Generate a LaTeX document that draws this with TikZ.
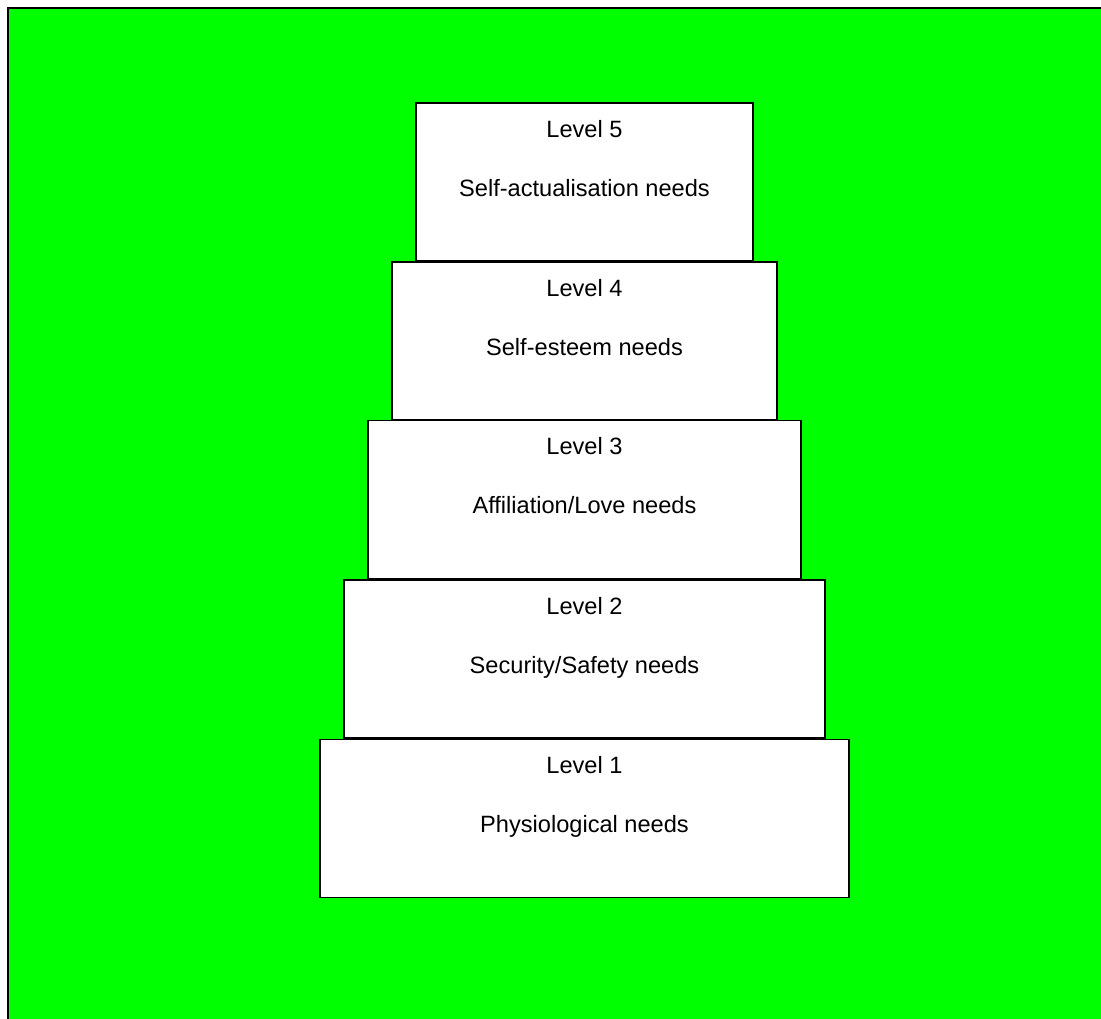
\documentclass[tikz,border=0pt]{standalone}
\usepackage{fontspec}
\setmainfont{Liberation Sans}
\definecolor{bggreen}{HTML}{00FF00}
\begin{document}
\begin{tikzpicture}[x=1pt,y=-1pt,
  lvlbox/.style={draw=black,fill=white,line width=1.6pt,inner sep=0pt,minimum height=158pt},
  lvltext/.style={anchor=base,inner sep=0pt,font=\fontsize{23.6}{27}\selectfont}]
\useasboundingbox (0,0) rectangle (1101,1019);
\fill[bggreen] (8,8) rectangle (1101,1019);
\coordinate (fbl) at (8,1019);
\coordinate (ftl) at (8,8);
\coordinate (ftr) at (1101,8);
\draw[line width=2pt,black] (fbl) -- (ftl) -- (ftr);
% boxes
\node[lvlbox,minimum width=337pt] (b5) at (584.5,182) {};
\node[lvlbox,minimum width=385pt] (b4) at (584.5,341) {};
\node[lvlbox,minimum width=433pt] (b3) at (584.5,499.5) {};
\node[lvlbox,minimum width=481pt] (b2) at (584.5,659) {};
\node[lvlbox,minimum width=529pt] (b1) at (584.5,818.5) {};
% texts
\node[lvltext] (t5a) at ([yshift=-35pt]b5.north) {Level 5};
\node[lvltext] (t5b) at ([yshift=-94pt]b5.north) {Self-actualisation needs};
\node[lvltext] (t4a) at ([yshift=-35pt]b4.north) {Level 4};
\node[lvltext] (t4b) at ([yshift=-94pt]b4.north) {Self-esteem needs};
\node[lvltext] (t3a) at ([yshift=-35pt]b3.north) {Level 3};
\node[lvltext] (t3b) at ([yshift=-94pt]b3.north) {Affiliation/Love needs};
\node[lvltext] (t2a) at ([yshift=-35pt]b2.north) {Level 2};
\node[lvltext] (t2b) at ([yshift=-94pt]b2.north) {Security/Safety needs};
\node[lvltext] (t1a) at ([yshift=-35pt]b1.north) {Level 1};
\node[lvltext] (t1b) at ([yshift=-94pt]b1.north) {Physiological needs};
\end{tikzpicture}
\end{document}
